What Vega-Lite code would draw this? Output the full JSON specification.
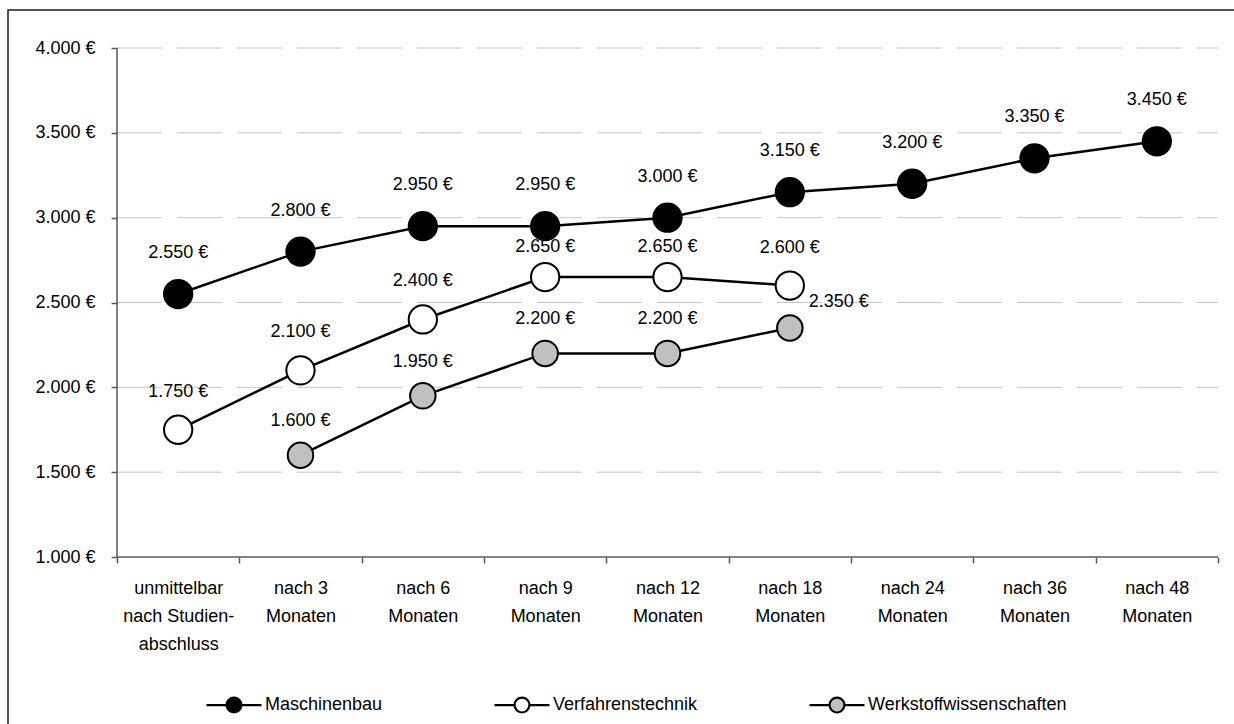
{
  "$schema": "https://vega.github.io/schema/vega-lite/v6.json",
  "autosize": "none",
  "padding": {"left": 8, "top": 10, "right": -24, "bottom": -4},
  "width": 1250,
  "height": 718,
  "config": {
    "view": {"stroke": "#1a1a1a", "strokeWidth": 1.5},
    "font": "Liberation Sans",
    "locale": {"number": {"decimal": ",", "thousands": ".", "grouping": [3], "currency": ["", " €"]}}
  },
  "datasets": {
    "gehalt": [
      {"Zeit": "unmittelbar\nnach Studien-\nabschluss", "Studiengang": "Maschinenbau", "Gehalt": 2550},
      {"Zeit": "nach 3\nMonaten", "Studiengang": "Maschinenbau", "Gehalt": 2800},
      {"Zeit": "nach 6\nMonaten", "Studiengang": "Maschinenbau", "Gehalt": 2950},
      {"Zeit": "nach 9\nMonaten", "Studiengang": "Maschinenbau", "Gehalt": 2950},
      {"Zeit": "nach 12\nMonaten", "Studiengang": "Maschinenbau", "Gehalt": 3000},
      {"Zeit": "nach 18\nMonaten", "Studiengang": "Maschinenbau", "Gehalt": 3150},
      {"Zeit": "nach 24\nMonaten", "Studiengang": "Maschinenbau", "Gehalt": 3200},
      {"Zeit": "nach 36\nMonaten", "Studiengang": "Maschinenbau", "Gehalt": 3350},
      {"Zeit": "nach 48\nMonaten", "Studiengang": "Maschinenbau", "Gehalt": 3450},
      {"Zeit": "unmittelbar\nnach Studien-\nabschluss", "Studiengang": "Verfahrenstechnik", "Gehalt": 1750},
      {"Zeit": "nach 3\nMonaten", "Studiengang": "Verfahrenstechnik", "Gehalt": 2100},
      {"Zeit": "nach 6\nMonaten", "Studiengang": "Verfahrenstechnik", "Gehalt": 2400},
      {"Zeit": "nach 9\nMonaten", "Studiengang": "Verfahrenstechnik", "Gehalt": 2650},
      {"Zeit": "nach 12\nMonaten", "Studiengang": "Verfahrenstechnik", "Gehalt": 2650},
      {"Zeit": "nach 18\nMonaten", "Studiengang": "Verfahrenstechnik", "Gehalt": 2600},
      {"Zeit": "nach 3\nMonaten", "Studiengang": "Werkstoffwissenschaften", "Gehalt": 1600},
      {"Zeit": "nach 6\nMonaten", "Studiengang": "Werkstoffwissenschaften", "Gehalt": 1950},
      {"Zeit": "nach 9\nMonaten", "Studiengang": "Werkstoffwissenschaften", "Gehalt": 2200},
      {"Zeit": "nach 12\nMonaten", "Studiengang": "Werkstoffwissenschaften", "Gehalt": 2200},
      {"Zeit": "nach 18\nMonaten", "Studiengang": "Werkstoffwissenschaften", "Gehalt": 2350}
    ],
    "gitter": [{"Wert": 1500}, {"Wert": 2000}, {"Wert": 2500}, {"Wert": 3000}, {"Wert": 3500}, {"Wert": 4000}],
    "achse": [{"Wert": 1000}]
  },
  "layer": [
    {
      "data": {"name": "gitter"},
      "mark": {"type": "rule", "stroke": "#c4c4c4", "strokeWidth": 1, "strokeDash": [45, 15]},
      "encoding": {
        "x": {
          "datum": "unmittelbar\nnach Studien-\nabschluss", "type": "nominal", "bandPosition": 0,
          "scale": {
            "type": "band",
            "domain": ["unmittelbar\nnach Studien-\nabschluss", "nach 3\nMonaten", "nach 6\nMonaten", "nach 9\nMonaten", "nach 12\nMonaten", "nach 18\nMonaten", "nach 24\nMonaten", "nach 36\nMonaten", "nach 48\nMonaten"],
            "paddingInner": 0, "paddingOuter": 0.609, "align": 0.7315
          },
          "axis": {
            "title": null, "orient": "bottom", "offset": -171, "domain": false, "grid": false,
            "tickBand": "extent", "ticks": true, "tickSize": 6, "tickColor": "#5a5a5a", "tickWidth": 1.5,
            "labelExpr": "split(datum.label, '\\n')", "labelFont": "Liberation Sans", "labelFontSize": 18,
            "labelColor": "#000000", "labelLineHeight": 28, "labelPadding": 16, "labelAngle": 0, "labelLimit": 0
          }
        },
        "x2": {"datum": "nach 48\nMonaten", "bandPosition": 1},
        "y": {
          "field": "Wert", "type": "quantitative",
          "scale": {"domain": [-7.8, 4224], "nice": false, "zero": false},
          "axis": {
            "title": null, "orient": "left", "offset": -109, "domain": false, "grid": false,
            "values": [1000, 1500, 2000, 2500, 3000, 3500, 4000], "format": "$,.0f",
            "tickSize": 6, "tickColor": "#5a5a5a", "tickWidth": 1.5,
            "labelFont": "Liberation Sans", "labelFontSize": 18, "labelColor": "#000000", "labelPadding": 16
          }
        }
      }
    },
    {
      "data": {"name": "achse"},
      "mark": {"type": "rule", "stroke": "#5a5a5a", "strokeWidth": 1.5},
      "encoding": {
        "x": {"datum": "unmittelbar\nnach Studien-\nabschluss", "type": "nominal", "bandPosition": 0},
        "x2": {"datum": "nach 48\nMonaten", "bandPosition": 1},
        "y": {"field": "Wert", "type": "quantitative"}
      }
    },
    {
      "data": {"name": "achse"},
      "mark": {"type": "rule", "stroke": "#5a5a5a", "strokeWidth": 1.5},
      "encoding": {
        "x": {"datum": "unmittelbar\nnach Studien-\nabschluss", "type": "nominal", "bandPosition": 0},
        "y": {"datum": 1000, "type": "quantitative"},
        "y2": {"datum": 4000}
      }
    },
    {
      "data": {"name": "gehalt"},
      "mark": {"type": "line", "stroke": "#000000", "strokeWidth": 2.5},
      "encoding": {
        "x": {"field": "Zeit", "type": "nominal", "title": null},
        "y": {"field": "Gehalt", "type": "quantitative", "title": null},
        "detail": {"field": "Studiengang"}
      }
    },
    {
      "data": {"name": "gehalt"},
      "transform": [{"filter": "datum.Studiengang !== 'Werkstoffwissenschaften'"}],
      "mark": {"type": "point", "shape": "circle", "filled": true, "size": 800, "stroke": "#000000", "strokeWidth": 2, "opacity": 1},
      "encoding": {
        "x": {"field": "Zeit", "type": "nominal", "title": null},
        "y": {"field": "Gehalt", "type": "quantitative", "title": null},
        "fill": {
          "field": "Studiengang", "type": "nominal",
          "scale": {"domain": ["Maschinenbau", "Verfahrenstechnik", "Werkstoffwissenschaften"], "range": ["#000000", "#ffffff", "#c0c0c0"]},
          "legend": {
            "title": null, "orient": "none", "legendX": 197, "legendY": 666, "direction": "horizontal", "columns": 3,
            "symbolType": "M-1,0H-0.27M0.27,0H1M0.27,0A0.27,0.27,0,1,1,-0.27,0A0.27,0.27,0,1,1,0.27,0Z",
            "symbolSize": 3025, "symbolStrokeColor": "#000000", "symbolStrokeWidth": 2.2, "symbolOpacity": 1,
            "labelFont": "Liberation Sans", "labelFontSize": 18, "labelColor": "#000000", "labelOffset": 2,
            "columnPadding": 107, "padding": 0, "labelLimit": 0
          }
        }
      }
    },
    {
      "data": {"name": "gehalt"},
      "transform": [{"filter": "datum.Studiengang === 'Werkstoffwissenschaften'"}],
      "mark": {"type": "point", "shape": "circle", "filled": true, "size": 650, "stroke": "#000000", "strokeWidth": 2, "opacity": 1},
      "encoding": {
        "x": {"field": "Zeit", "type": "nominal", "title": null},
        "y": {"field": "Gehalt", "type": "quantitative", "title": null},
        "fill": {"field": "Studiengang", "type": "nominal"}
      }
    },
    {
      "data": {"name": "gehalt"},
      "transform": [{"filter": "datum.Studiengang === 'Maschinenbau'"}],
      "mark": {"type": "text", "dy": -41, "baseline": "middle", "align": "center", "fontSize": 18, "font": "Liberation Sans", "color": "#000000"},
      "encoding": {
        "x": {"field": "Zeit", "type": "nominal", "title": null},
        "y": {"field": "Gehalt", "type": "quantitative", "title": null},
        "text": {"field": "Gehalt", "type": "quantitative", "format": "$,.0f"}
      }
    },
    {
      "data": {"name": "gehalt"},
      "transform": [{"filter": "datum.Studiengang === 'Verfahrenstechnik' && datum.Gehalt !== 2650"}],
      "mark": {"type": "text", "dy": -38, "baseline": "middle", "align": "center", "fontSize": 18, "font": "Liberation Sans", "color": "#000000"},
      "encoding": {
        "x": {"field": "Zeit", "type": "nominal", "title": null},
        "y": {"field": "Gehalt", "type": "quantitative", "title": null},
        "text": {"field": "Gehalt", "type": "quantitative", "format": "$,.0f"}
      }
    },
    {
      "data": {"name": "gehalt"},
      "transform": [{"filter": "datum.Studiengang === 'Verfahrenstechnik' && datum.Gehalt === 2650"}],
      "mark": {"type": "text", "dy": -30, "baseline": "middle", "align": "center", "fontSize": 18, "font": "Liberation Sans", "color": "#000000"},
      "encoding": {
        "x": {"field": "Zeit", "type": "nominal", "title": null},
        "y": {"field": "Gehalt", "type": "quantitative", "title": null},
        "text": {"field": "Gehalt", "type": "quantitative", "format": "$,.0f"}
      }
    },
    {
      "data": {"name": "gehalt"},
      "transform": [{"filter": "datum.Studiengang === 'Werkstoffwissenschaften' && datum.Gehalt !== 2350"}],
      "mark": {"type": "text", "dy": -34, "baseline": "middle", "align": "center", "fontSize": 18, "font": "Liberation Sans", "color": "#000000"},
      "encoding": {
        "x": {"field": "Zeit", "type": "nominal", "title": null},
        "y": {"field": "Gehalt", "type": "quantitative", "title": null},
        "text": {"field": "Gehalt", "type": "quantitative", "format": "$,.0f"}
      }
    },
    {
      "data": {"name": "gehalt"},
      "transform": [{"filter": "datum.Studiengang === 'Werkstoffwissenschaften' && datum.Gehalt === 2350"}],
      "mark": {"type": "text", "dx": 49, "dy": -26, "baseline": "middle", "align": "center", "fontSize": 18, "font": "Liberation Sans", "color": "#000000"},
      "encoding": {
        "x": {"field": "Zeit", "type": "nominal", "title": null},
        "y": {"field": "Gehalt", "type": "quantitative", "title": null},
        "text": {"field": "Gehalt", "type": "quantitative", "format": "$,.0f"}
      }
    }
  ]
}
